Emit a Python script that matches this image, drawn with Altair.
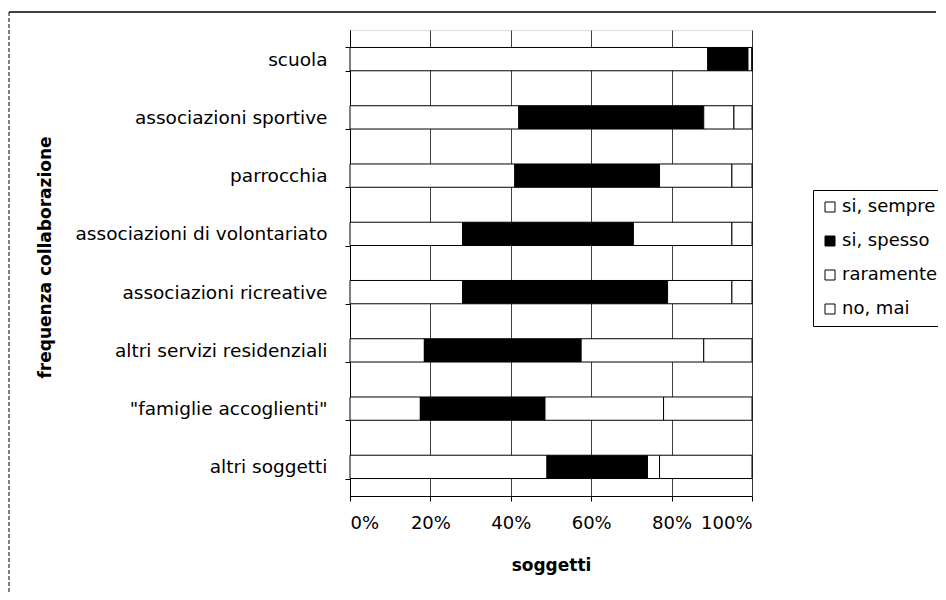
import altair as alt
import pandas as pd

categories = [
    "scuola",
    "associazioni sportive",
    "parrocchia",
    "associazioni di volontariato",
    "associazioni ricreative",
    "altri servizi residenziali",
    "\"famiglie accoglienti\"",
    "altri soggetti",
]
series = ["si, sempre", "si, spesso", "raramente", "no, mai"]
si_sempre = [89, 42, 41, 28, 28, 18.5, 17.5, 49]
si_spesso = [10, 46, 36, 42.5, 51, 39, 31, 25]
raramente = [1, 7.5, 18, 24.5, 16, 30.5, 29.5, 3]
no_mai = [0, 4.5, 5, 5, 5, 12, 22, 23]
x_ticks = [0, 0.2, 0.4, 0.6, 0.8, 1.0]

rows = []
for vals, s, o in zip([si_sempre, si_spesso, raramente, no_mai], series, range(4)):
    for c, v in zip(categories, vals):
        rows.append({"categoria": c, "serie": s, "valore": v, "ord": o})
df = pd.DataFrame(rows)

FONT = "DejaVu Sans"

bars = alt.Chart(df).mark_bar(stroke="black", strokeWidth=1).encode(
    y=alt.Y(
        "categoria:N",
        sort=categories,
        scale=alt.Scale(paddingInner=0.6, paddingOuter=0.3),
        axis=alt.Axis(
            title="frequenza collaborazione",
            titleFont=FONT, titleFontSize=17, titleFontWeight="bold", titleColor="black",
            titleAngle=-90, titleX=-305, titleY=227, titleAlign="center", titleBaseline="middle",
            labelFont=FONT, labelFontSize=18.5, labelColor="black", labelPadding=18, labelLimit=0,
            tickBand="extent", tickSize=5, tickColor="black", domainColor="black",
        ),
    ),
    x=alt.X(
        "valore:Q",
        stack="normalize",
        scale=alt.Scale(domain=[0, 1], nice=False),
        axis=alt.Axis(
            title="soggetti", values=x_ticks, format=".0%",
            titleFont=FONT, titleFontSize=17, titleFontWeight="bold", titleColor="black", titlePadding=25,
            labelFont=FONT, labelFontSize=18, labelColor="black", labelPadding=13,
            tickSize=5, tickColor="black", domainColor="black",
            grid=True, gridColor="black", gridOpacity=0.75, gridWidth=1,
        ),
    ),
    color=alt.Color(
        "serie:N",
        sort=series,
        scale=alt.Scale(domain=series, range=["white", "black", "white", "white"]),
        legend=alt.Legend(
            title=None, orient="none", legendX=463, legendY=160,
            symbolType="square", symbolSize=100, symbolStrokeColor="black", symbolStrokeWidth=1,
            labelFont=FONT, labelFontSize=18, labelColor="black", labelOffset=3, labelLimit=0,
            rowPadding=16, padding=8, strokeColor="black",
        ),
    ),
    order=alt.Order("ord:Q"),
)

frame_src = alt.Chart(pd.DataFrame({"k": [0]}))
top_line = frame_src.mark_rule(color="black", strokeWidth=1.5).encode(
    x=alt.value(-341), x2=alt.value(586), y=alt.value(-18)
)
left_line = frame_src.mark_rule(color="black", strokeWidth=1, strokeDash=[4, 2]).encode(
    x=alt.value(-341), y=alt.value(-18), y2=alt.value(562)
)

chart = alt.layer(bars, top_line, left_line).properties(
    width=402,
    height=466,
    autosize=alt.AutoSizeParams(type="none"),
    padding={"left": 342, "top": 22, "right": 186, "bottom": 96},
).configure_view(stroke="black", strokeWidth=1).configure(background="white")

chart.save("out.html", embed_options={"renderer": "svg", "actions": False})
